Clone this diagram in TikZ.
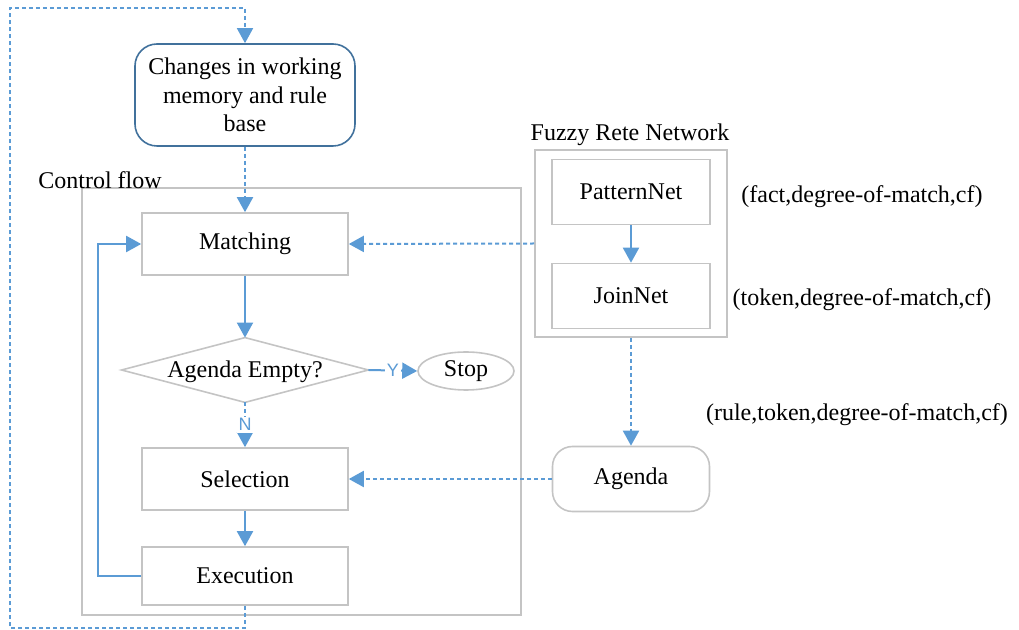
\documentclass[tikz,border=0pt]{standalone}
\usepackage{fontspec}
\setmainfont{Liberation Serif}
\setsansfont{Liberation Sans}
\usetikzlibrary{arrows.meta,shapes.geometric}
\definecolor{flowblue}{HTML}{5B9BD5}
\definecolor{boxgray}{HTML}{C4C4C4}
\definecolor{edgeblue}{HTML}{41719C}
\tikzset{
	procbox/.style={draw=boxgray, line width=0.8pt, minimum width=103pt, minimum height=31pt},
	groupbox/.style={draw=boxgray, line width=0.8pt, inner sep=0pt},
	flow/.style={draw=flowblue, line width=1pt, -{Triangle[length=7.5pt,width=8pt]}},
	dashflow/.style={flow, dash pattern=on 2pt off 1.5pt},
	yesno/.style={fill=white, text=flowblue, font=\sffamily\fontsize{9}{10}\selectfont, inner sep=1pt}
}

\begin{document}
\begin{tikzpicture}[x=0.5pt, y=-0.5pt, font=\fontsize{12}{14.3}\selectfont]
        \useasboundingbox (0,0) rectangle (1019,630);
        % the two groups
        \node[groupbox, minimum width=219.5pt, minimum height=213.5pt] (ctrl_CF) at (301.5, 401.5) {};
        \node at (100, 180) {Control flow};
        \node[groupbox, minimum width=96pt, minimum height=93.5pt] (rete_FR) at (631, 243.5) {};
        \node at (630, 135) {Fuzzy Rete Network};
        % control flow
        \node[draw=edgeblue, line width=0.8pt, rounded corners=11pt, minimum width=110pt, minimum height=51pt, align=center] (chg) at (245, 95) {Changes in working\\memory and rule\\base};
        \node[procbox] (match_CF) at (245, 244) {Matching};
        \node[minimum width=123pt, minimum height=32pt, inner sep=0pt] (empty_CF) at (245, 370) {};
        \node at (245, 372) {Agenda Empty?};
        \draw[boxgray, line width=0.8pt] (empty_CF.west) -- (empty_CF.north) -- (empty_CF.east) -- (empty_CF.south) -- cycle;
        \node[draw=boxgray, line width=0.8pt, ellipse, minimum width=48pt, minimum height=19pt, inner sep=0pt] (stop_CF) at (466, 371) {\raisebox{-1pt}{Stop}};
        \node[procbox] (sel_CF) at (245, 479) {\raisebox{-1.5pt}{Selection}};
        \node[procbox, minimum height=29pt] (exec_CF) at (245, 576) {\raisebox{-1.5pt}{Execution}};
        % fuzzy rete network
        \node[procbox, minimum width=79pt, minimum height=32.5pt] (pat_FR) at (631, 192) {\raisebox{-1.5pt}{PatternNet}};
        \node[procbox, minimum width=79pt, minimum height=32.5pt] (join_FR) at (631, 296) {\raisebox{-1.5pt}{JoinNet}};
        \node[procbox, minimum width=78.5pt, minimum height=32.5pt, rounded corners=10pt] (agenda) at (631, 479) {\raisebox{-1.5pt}{Agenda}};
        \node at (862, 197) {(fact,degree-of-match,cf)};
        \node at (862, 300) {(token,degree-of-match,cf)};
        \node at (857, 415) {(rule,token,degree-of-match,cf)};
        % connectors
        \coordinate (loop_bl) at (10, 628);
        \coordinate (loop_tr) at (245, 8);
        \draw[dashflow, line width=0.8pt] (exec_CF.south) |- (loop_bl) |- (loop_tr) -- (chg.north);
        \draw[dashflow] (chg.south) -- (match_CF.north);
        \draw[flow] (match_CF.south) -- (empty_CF.north);
        \draw[flow] (empty_CF.east) -- node[yesno]{Y} (stop_CF.west);
        \draw[dashflow] (empty_CF.south) -- node[yesno]{N} (sel_CF.north);
        \draw[flow] (sel_CF.south) -- (exec_CF.north);
        \draw[flow] (exec_CF.west) -- ++(-43, 0) |- (match_CF.west);
        \draw[flow] (pat_FR.south) -- (join_FR.north);
        \draw[dashflow] (rete_FR.west) -- (match_CF.east);
        \draw[dashflow] (rete_FR.south) -- (agenda.north);
        \draw[dashflow] (agenda.west) -- (sel_CF.east);
\end{tikzpicture}
\end{document}
